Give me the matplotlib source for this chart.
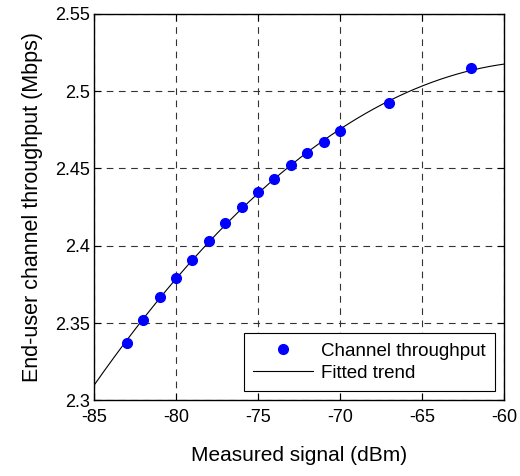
import numpy as np
import matplotlib
matplotlib.use("Agg")
import matplotlib.pyplot as plt

# measured points
signal = [-83, -82, -81, -80, -79, -78, -77, -76, -75, -74, -73, -72, -71, -70, -67, -62]
throughput = [2.337, 2.352, 2.367, 2.379, 2.391, 2.403, 2.415, 2.425, 2.435, 2.443,
              2.452, 2.460, 2.467, 2.474, 2.492, 2.515]

xticks = [-85, -80, -75, -70, -65, -60]
yticks = [2.3, 2.35, 2.4, 2.45, 2.5, 2.55]
ytick_labels = ['2.3', '2.35', '2.4', '2.45', '2.5', '2.55']

plt.rcParams['font.family'] = ['Liberation Sans', 'DejaVu Sans']

# fitted trend: quadratic least squares through the measured points
coef = np.polyfit(signal, throughput, 2)
xfit = np.linspace(-85, -60, 200)
yfit = np.polyval(coef, xfit)

fig = plt.figure(figsize=(5.2, 4.76), dpi=100)
ax = fig.add_axes([0.181, 0.159, 0.788, 0.812])

ax.plot(signal, throughput, 'o', color='#0000ff', markersize=7, label='Channel throughput', zorder=3)
ax.plot(xfit, yfit, '-', color='black', linewidth=0.8, label='Fitted trend', zorder=2)

ax.set_xlim(-85, -60)
ax.set_ylim(2.3, 2.55)
ax.set_xticks(xticks)
ax.set_yticks(yticks)
ax.set_xticklabels([str(t) for t in xticks])
ax.set_yticklabels(ytick_labels)
ax.tick_params(direction='in', top=True, right=True, labelsize=13, length=5, width=0.8)
ax.tick_params(axis='x', pad=6)
ax.tick_params(axis='y', pad=3)
ax.grid(True, color='#333333', linestyle=(0, (6, 5)), linewidth=0.8)
for s in ax.spines.values():
    s.set_linewidth(1.0)

ax.set_xlabel('Measured signal (dBm)', fontsize=15, labelpad=15)
ax.set_ylabel('End-user channel throughput (Mbps)', fontsize=15.5, labelpad=9)

leg = ax.legend(loc='lower right', fontsize=13.5, fancybox=False, framealpha=1,
                edgecolor='black', borderaxespad=0.5, handlelength=3.2,
                handletextpad=0.4, borderpad=0.5, labelspacing=0.25)
leg.get_frame().set_linewidth(0.8)

fig.savefig('out.png', dpi=100)
